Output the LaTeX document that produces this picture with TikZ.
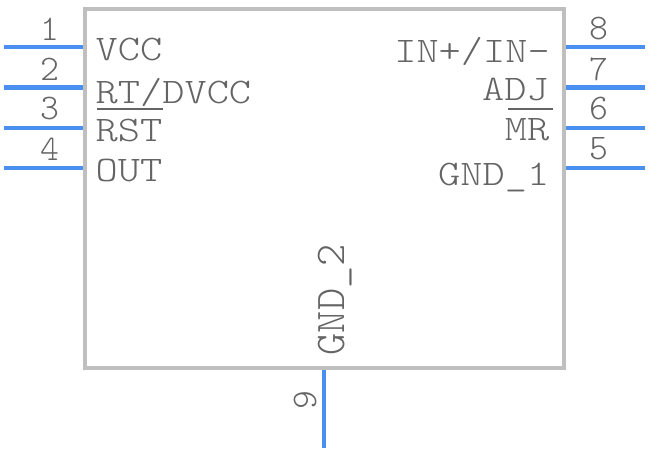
\documentclass[tikz,border=0pt]{standalone}
\usepackage{fontspec}
\setmonofont{Latin Modern Mono Light}
\definecolor{pinblue}{HTML}{4A90F0}
\definecolor{bodygray}{HTML}{BFBFBF}
\definecolor{labelgray}{HTML}{646464}
\tikzset{
x=1pt,y=-1pt,
pin/.style={draw=pinblue,line width=4pt},
pinnum/.style={text=labelgray,font=\fontsize{36}{36}\ttfamily,inner sep=0pt},
pinname/.style={text=labelgray,font=\fontsize{36}{36}\ttfamily,inner sep=0pt,xscale=1.175,transform shape},
bar/.style={draw=labelgray,line width=2pt}
}
\begin{document}
\begin{tikzpicture}
\useasboundingbox (0,0) rectangle (648,452);
\node (chip) [draw=bodygray,line width=4pt,inner sep=0pt,minimum width=479pt,minimum height=358pt] at (324,188.5) {};
% the left pins
\foreach \n/\y in {1/47.5,2/87.5,3/127.5,4/167.5}
{
  \coordinate (end\n) at (4,\y);
  \draw[pin] (end\n) -- (end\n -| chip.west);
  \node (num\n) [pinnum] at (49.5,\y-18.5) {\n};
}
\node (vcc) [pinname,anchor=base west] at (95.5,60) {VCC};
\node (rt) [pinname,anchor=base west] at (95.5,103) {RT/DVCC};
\node (rst) [pinname,anchor=base west] at (95.5,141) {RST};
\node (out) [pinname,anchor=base west] at (95.5,181) {OUT};
% the right pins
\foreach \n/\y in {8/47.5,7/87.5,6/127.5,5/167.5}
{
  \coordinate (end\n) at (645,\y);
  \draw[pin] (end\n) -- (end\n -| chip.east);
  \node (num\n) [pinnum] at (598.5,\y-18.5) {\n};
}
\node (in) [pinname,anchor=base east] at (550,63) {IN+/IN-};
\node (adj) [pinname,anchor=base east] at (549,100) {ADJ};
\node (mr) [pinname,anchor=base east] at (549.5,140) {MR};
\node (gnda) [pinname,anchor=base east] at (549.5,185) {GND\_1};
% the bottom pin
\coordinate (end9) at (323.5,448);
\draw[pin] (end9) -- (end9 |- chip.south);
\node (num9) [pinnum,rotate=90] at (305,400) {9};
\node (gndb) [pinname,xscale=1,yscale=1.175,rotate=90,anchor=base west] at (344.5,355.5) {GND\_2};
% the bars over active low names
\draw[bar] (97,109) -- (163,109);
\draw[bar] (508,109) -- (553,109);
\end{tikzpicture}
\end{document}
